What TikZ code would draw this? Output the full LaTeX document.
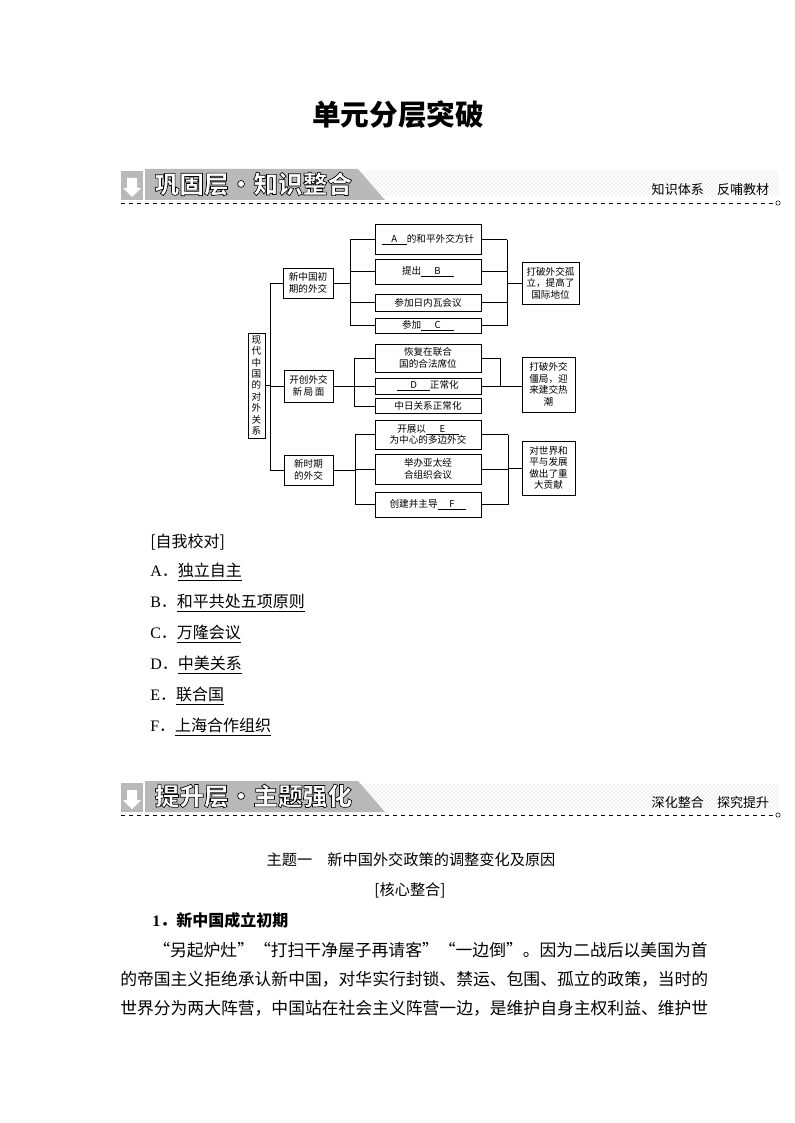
\documentclass[tikz,border=0pt]{standalone}
\usepackage{fontspec}
\setmainfont{Noto Sans CJK SC}
\newfontfamily\latin{Liberation Serif}
\usepackage{tikz}
\usetikzlibrary{calc,positioning,patterns}
\newcommand\blank[2][2.6em]{\underline{\makebox[#1]{#2}}}
\newcommand\outlined[1]{\special{pdf:literal direct 0 G 2 Tr 0.5 w}#1\special{pdf:literal direct 0 Tr}}
\tikzset{box/.style={draw, line width=0.5pt, inner sep=1pt, align=center,
                     font=\fontsize{7.2}{8.6}\selectfont},
         item/.style={box, minimum width=79.5pt},
         link/.style={line width=0.5pt},
         body/.style={anchor=west, inner sep=0pt, font=\fontsize{12}{14}\selectfont},
         para/.style={anchor=west, inner sep=0pt, font=\fontsize{12.6}{14}\selectfont}}
\begin{document}
\begin{tikzpicture}[x=0.75pt, y=-0.75pt]
    \useasboundingbox (0,0) rectangle (794,1123);

    \node (title) at (398,115) {\fontsize{21.5}{24}\selectfont\bfseries 单元分层突破};

    % two banners
    \foreach \y/\txt/\side in {0/巩固层·知识整合/知识体系　反哺教材, 612/提升层·主题强化/深化整合　探究提升}{
        \begin{scope}[yshift=-\y*0.75pt]
        \fill[pattern=crosshatch dots, pattern color=gray!45] (355,172) rectangle (778,196);
        \fill[gray!55] (121,171) rectangle (143,200);
        \fill[white] (127,178) -- (137,178) -- (137,188) -- (141,188) -- (132,197) -- (123,188) -- (127,188) -- cycle;
        \fill[gray!55] (145,169) -- (358,169) -- (385,200) -- (145,200) -- cycle;
        \node[anchor=west, text=white] (bt\y) at (150,184) {\fontsize{18.5}{20}\selectfont\bfseries\outlined{\txt}};
        \node[anchor=east] (bs\y) at (774,190) {\fontsize{9.8}{11}\selectfont \side};
        \draw[dashed, line width=0.5pt] (121,203) -- (775,203);
        \draw[line width=0.4pt] (778,203) circle (2.2);
        \end{scope}
    }

    % diagram
    \node[box, minimum width=12.5pt, minimum height=79pt] (root) at (256.5,385.5) {现\\代\\中\\国\\的\\对\\外\\关\\系};
    \node[box, minimum width=37.5pt, minimum height=22.5pt] (g1) at (308,283) {新中国初\\期的外交};
    \node[box, minimum width=37pt, minimum height=24pt] (g2) at (308.5,386) {开创外交\\新\,局\,面};
    \node[box, minimum width=37pt, minimum height=22.5pt] (g3) at (308.5,470) {新时期\\的外交};

    \node[item, minimum height=22pt] (a) at (428,239.5) {\blank{A}的和平外交方针};
    \node[item, minimum height=19pt] (b) at (428,271.5) {提出\blank[3.4em]{B}};
    \node[item, minimum height=13pt] (c) at (428,302.5) {参加日内瓦会议};
    \node[item, minimum height=11.5pt] (d) at (428,325.5) {参加\blank[3.4em]{C}};
    \node[item, minimum height=21pt] (e) at (428,358) {恢复在联合\\国的合法席位};
    \node[item, minimum height=12pt] (f) at (428,386) {\blank[3.4em]{D}正常化};
    \node[item, minimum height=11pt] (g) at (428,406) {中日关系正常化};
    \node[item, minimum height=22pt] (h) at (428,434.5) {开展以\blank[3.4em]{E}\\为中心的多边外交};
    \node[item, minimum height=22.5pt] (i) at (428,469) {举办亚太经\\合组织会议};
    \node[item, minimum height=19pt] (j) at (428,504.5) {创建并主导\blank[3em]{F}};

    \node[box, minimum width=43pt, minimum height=31.5pt] (r1) at (550.5,283) {打破外交孤\\立，提高了\\国际地位};
    \node[box, minimum width=40pt, minimum height=41pt] (r2) at (548.5,384.5) {打破外交\\僵局，迎\\来建交热\\潮};
    \node[box, minimum width=40pt, minimum height=40.5pt] (r3) at (548.5,468) {对世界和\\平与发展\\做出了重\\大贡献};

    \coordinate (t) at (270,0);
    \coordinate (l1) at (350,0);
    \coordinate (l2) at (354,0);
    \coordinate (l3) at (355,0);
    \coordinate (m1) at (507,0);
    \coordinate (m2) at (500,0);
    \coordinate (m3) at (508,0);

    \draw[link] (root.east) -- (t |- root.east);
    \draw[link] (t |- g1.west) -- (t |- g3.west);
    \foreach \k in {g1,g2,g3}
        \draw[link] (t |- \k.west) -- (\k.west);

    \draw[link] (g1.east) -- (l1 |- g1.east);
    \draw[link] (l1 |- a.west) -- (l1 |- d.west);
    \foreach \k in {a,b,c,d}
        \draw[link] (l1 |- \k.west) -- (\k.west);
    \draw[link] (m1 |- a.east) -- (m1 |- d.east);
    \foreach \k in {a,b,c,d}
        \draw[link] (\k.east) -- (m1 |- \k.east);
    \draw[link] (m1 |- r1.west) -- (r1.west);

    \draw[link] (g2.east) -- (l2 |- g2.east);
    \draw[link] (l2 |- e.west) -- (l2 |- g.west);
    \foreach \k in {e,f,g}
        \draw[link] (l2 |- \k.west) -- (\k.west);
    \draw[link] (m2 |- e.east) -- (m2 |- f.east);
    \draw[link] (e.east) -- (m2 |- e.east);
    \draw[link] (f.east) -- (r2.west |- f.east);

    \draw[link] (g3.east) -- (l3 |- g3.east);
    \draw[link] (l3 |- h.west) -- (l3 |- j.west);
    \foreach \k in {h,i,j}
        \draw[link] (l3 |- \k.west) -- (\k.west);
    \draw[link] (m3 |- h.east) -- (m3 |- j.east);
    \foreach \k in {h,i,j}
        \draw[link] (\k.east) -- (m3 |- \k.east);
    \draw[link] (m3 |- r3.west) -- (r3.west);

    % answers
    \node[body] (chk) at (150,542) {[自我校对]};
    \node[body] (ansA) at (150,572) {{\latin A}．\underline{独立自主}};
    \node[body] (ansB) at (150,603) {{\latin B}．\underline{和平共处五项原则}};
    \node[body] (ansC) at (150,634) {{\latin C}．\underline{万隆会议}};
    \node[body] (ansD) at (150,665) {{\latin D}．\underline{中美关系}};
    \node[body] (ansE) at (150,696) {{\latin E}．\underline{联合国}};
    \node[body] (ansF) at (150,727) {{\latin F}．\underline{上海合作组织}};

    % text
    \node[font=\fontsize{11.4}{13}\selectfont] (topic) at (411,860) {主题一\quad 新中国外交政策的调整变化及原因};
    \node[font=\fontsize{11.4}{13}\selectfont] (core) at (410,890) {[核心整合]};
    \node[body, font=\fontsize{12}{14}\selectfont\bfseries] (sec) at (152,920) {{\latin 1}．新中国成立初期};
    \node[para] (p1) at (153,950) {“另起炉灶”“打扫干净屋子再请客”“一边倒”。因为二战后以美国为首};
    \node[para] (p2) at (120,979) {的帝国主义拒绝承认新中国，对华实行封锁、禁运、包围、孤立的政策，当时的};
    \node[para] (p3) at (120,1008) {世界分为两大阵营，中国站在社会主义阵营一边，是维护自身主权利益、维护世};
\end{tikzpicture}
\end{document}
